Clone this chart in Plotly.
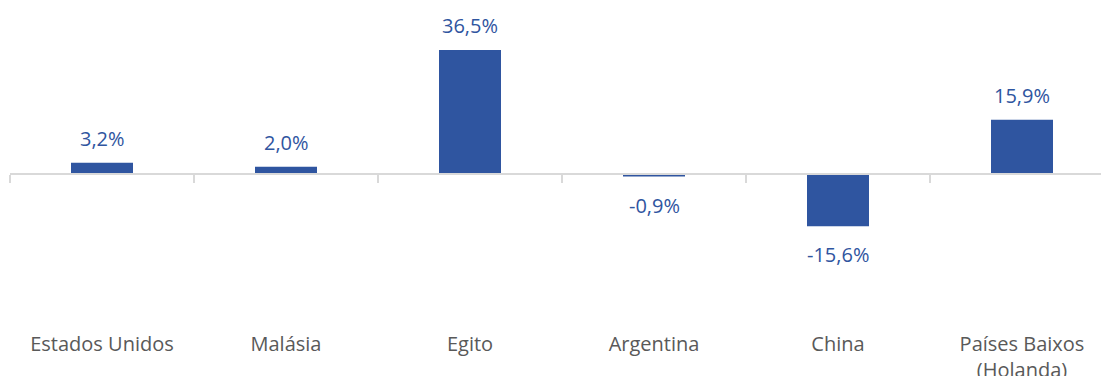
import plotly.graph_objects as go

categories = ["Estados Unidos", "Malásia", "Egito", "Argentina", "China", "Países Baixos<br>(Holanda)"]
values = [3.2, 2.0, 36.5, -0.9, -15.6, 15.9]

W, H = 1101, 376
left, right, top, bottom = 10, 0, 0, 46
plot_h = H - top - bottom
px_per_unit = 3.384
zero_px = 173.5
ymax = zero_px / px_per_unit
ymin = -(plot_h - zero_px) / px_per_unit
cat_w = 184.0
xr = [-0.5, -0.5 + (W - left - right) / cat_w]

bar_color = "#2F55A0"
label_color = "#2F55A0"
cat_color = "#595959"
axis_color = "#D9D9D9"
font_family = "Open Sans, Noto Sans, sans-serif"
fs = 20

idx = list(range(len(categories)))

fig = go.Figure()
fig.add_trace(go.Bar(x=idx, y=values, width=62 / cat_w, marker=dict(color=bar_color, line=dict(width=0)),
                     hoverinfo="skip"))
# invisible trace so the label axis is drawn
fig.add_trace(go.Scatter(x=idx, y=values, xaxis="x2", mode="markers",
                         marker=dict(opacity=0), hoverinfo="skip"))

for i, v in zip(idx, values):
    txt = f"{v:.1f}%".replace(".", ",")
    fig.add_annotation(x=i, y=v, xref="x", yref="y", text=txt, showarrow=False,
                       yanchor="bottom" if v >= 0 else "top",
                       yshift=9 if v >= 0 else -13,
                       font=dict(family=font_family, size=fs, color=label_color))

zero_pos = (0 - ymin) / (ymax - ymin)

fig.update_layout(
    width=W, height=H,
    margin=dict(l=left, r=right, t=top, b=bottom, pad=0, autoexpand=False),
    paper_bgcolor="white", plot_bgcolor="white",
    showlegend=False,
    font=dict(family=font_family, size=fs, color=cat_color),
    xaxis=dict(range=xr, tickmode="array", tickvals=[i - 0.5 for i in idx] + [len(idx) - 0.5],
               showticklabels=False, ticks="outside", ticklen=8, tickwidth=2, tickcolor=axis_color,
               showline=True, linecolor=axis_color, linewidth=2, showgrid=False, zeroline=False,
               anchor="free", position=zero_pos, automargin=False),
    xaxis2=dict(range=xr, overlaying="x", anchor="y", side="bottom",
                tickmode="array", tickvals=idx, ticktext=categories, ticks="", showline=False,
                showgrid=False, zeroline=False, automargin=False,
                tickfont=dict(family=font_family, size=fs, color=cat_color)),
    yaxis=dict(range=[ymin, ymax], visible=False, showgrid=False, zeroline=False, automargin=False),
)

fig.write_html("out.html")
